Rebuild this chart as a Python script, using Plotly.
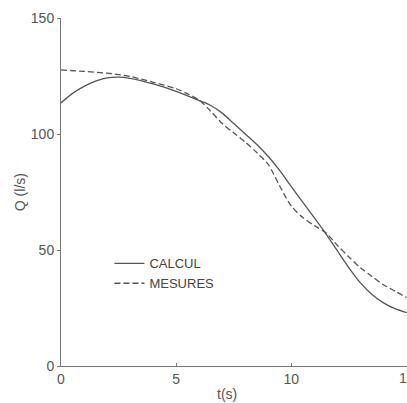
import plotly.graph_objects as go

# Data
t_calcul = [0, 0.5, 1, 1.5, 2, 2.5, 3, 4, 5, 6, 6.5, 7, 7.5, 8, 8.5, 9, 9.5, 10,
            10.5, 11, 11.5, 12, 12.5, 13, 13.5, 14, 14.5, 15]
q_calcul = [113.4, 117.5, 120.5, 122.8, 124.2, 124.5, 124.0, 121.6, 118.4, 114.4,
            112.3, 109.0, 104.5, 100.0, 95.5, 90.3, 84.2, 77.3, 70.5, 63.8, 57.0,
            49.6, 42.3, 35.8, 30.8, 27.2, 24.7, 23.0]

t_mesures = [0, 1, 2, 3, 4, 5, 5.5, 6, 6.5, 7, 7.5, 8, 8.5, 9, 9.5, 10, 10.5, 11,
             11.5, 12, 12.5, 13, 13.5, 14, 14.5, 15]
q_mesures = [127.6, 127.0, 126.2, 124.8, 122.3, 119.5, 117.3, 114.6, 109.8, 104.5,
             100.5, 96.5, 92.0, 86.8, 77.5, 68.9, 64.0, 60.5, 57.4, 52.0, 47.0,
             42.3, 38.6, 35.0, 32.3, 29.5]

x_ticks = [0, 5, 10, 15]
y_ticks = [0, 50, 100, 150]

ink = "#555555"
font = "Liberation Sans, Arial, sans-serif"

fig = go.Figure()
fig.add_trace(go.Scatter(x=t_calcul, y=q_calcul, mode="lines", name="CALCUL",
                         line=dict(color=ink, width=1.3, shape="spline", smoothing=0.8)))
fig.add_trace(go.Scatter(x=t_mesures, y=q_mesures, mode="lines", name="MESURES",
                         line=dict(color=ink, width=1.3, shape="spline", smoothing=0.8,
                                   dash="6px,3px")))

# the last x tick label sits on the right edge of the figure (half cut off),
# plotly drops such labels, so it is drawn as an annotation at its data position
edge_labels = [dict(text=str(v), xref="x", yref="paper", x=v, y=-0.0345,
                    xanchor="center", yanchor="middle", showarrow=False,
                    font=dict(size=14, color=ink))
               for v in x_ticks if v >= 15]

fig.update_layout(
    width=407, height=403,
    margin=dict(l=61, r=0, t=18, b=37),
    paper_bgcolor="white", plot_bgcolor="white",
    font=dict(family=font, size=14, color=ink),
    showlegend=True,
    legend=dict(x=0.14, y=0.338, xanchor="left", yanchor="top",
                bgcolor="rgba(0,0,0,0)", font=dict(size=13, color="#444444"),
                itemwidth=30, tracegroupgap=0),
    xaxis=dict(range=[0, 15.02], tickvals=x_ticks,
               ticktext=[str(v) if v < 15 else "" for v in x_ticks],
               showgrid=False, zeroline=False, showline=True, linecolor="#777777",
               linewidth=1, ticks="inside", ticklen=3, tickcolor="#777777",
               automargin=False),
    yaxis=dict(range=[0, 150], tickvals=y_ticks, ticktext=[str(v) for v in y_ticks],
               showgrid=False, zeroline=False, showline=True, linecolor="#777777",
               linewidth=1, ticks="outside", ticklen=3, tickcolor="#777777",
               automargin=False),
    annotations=[
        dict(text="t(s)", xref="paper", yref="paper", x=0.48, y=-0.08,
             xanchor="center", yanchor="middle", showarrow=False,
             font=dict(size=14, color=ink)),
        dict(text="Q (l/s)", xref="paper", yref="paper", x=-0.118, y=0.5,
             xanchor="center", yanchor="middle", showarrow=False, textangle=-90,
             font=dict(size=14, color=ink)),
    ] + edge_labels,
)

fig.write_html("out.html", config={"displayModeBar": False},
               post_script="document.body.style.margin='0';"
                           "document.body.style.overflow='hidden';")
